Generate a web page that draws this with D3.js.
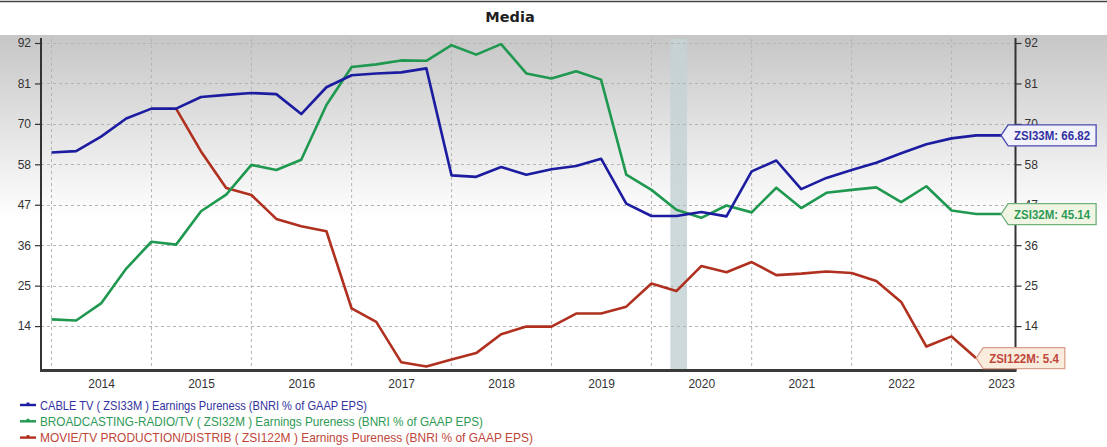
<!DOCTYPE html>
<html>
<head>
<meta charset="utf-8">
<script src="https://cdn.jsdelivr.net/npm/d3@7"></script>
<style>
  html, body { margin: 0; padding: 0; background: #fff; }
  svg { display: block; }
  text { font-family: "Liberation Sans", Arial, sans-serif; }
</style>
</head>
<body>
<svg id="chart" width="1107" height="447"></svg>
<script>
// Quarterly observations
const quarters = [
  "2014-01","2014-04","2014-07","2014-10",
  "2015-01","2015-04","2015-07","2015-10",
  "2016-01","2016-04","2016-07","2016-10",
  "2017-01","2017-04","2017-07","2017-10",
  "2018-01","2018-04","2018-07","2018-10",
  "2019-01","2019-04","2019-07","2019-10",
  "2020-01","2020-04","2020-07","2020-10",
  "2021-01","2021-04","2021-07","2021-10",
  "2022-01","2022-04","2022-07","2022-10",
  "2023-01","2023-04","2023-07"
];

// Earnings pureness (BNRI % of GAAP EPS)
const cableTV = [
  62.1, 62.5, 66.5, 71.5,
  74.2, 74.2, 77.4, 78.0,
  78.5, 78.2, 72.7, 80.1,
  83.4, 83.9, 84.2, 85.3,
  55.8, 55.4, 58.1, 56.0,
  57.5, 58.4, 60.4, 48.0,
  44.6, 44.6, 45.7, 44.5,
  56.9, 59.9, 52.0, 55.1,
  57.3, 59.3, 61.9, 64.4,
  66.0, 66.82, 66.82
];
const broadcasting = [
  16.1, 15.8, 20.5, 30.1,
  37.5, 36.7, 45.9, 50.5,
  58.7, 57.3, 60.1, 75.2,
  85.7, 86.4, 87.5, 87.4,
  91.7, 89.1, 92.0, 83.9,
  82.5, 84.5, 82.2, 56.0,
  51.8, 46.3, 44.1, 47.5,
  45.6, 52.4, 46.8, 51.0,
  51.8, 52.5, 48.4, 52.8,
  46.1, 45.14, 45.14
];
const movieTV = [
  null, null, null, null,
  null, 74.2, 62.4, 52.3,
  50.4, 43.8, 41.8, 40.4,
  19.1, 15.4, 4.3, 3.1,
  5.0, 6.8, 12.0, 14.1,
  14.1, 17.7, 17.7, 19.6,
  26.0, 23.9, 30.8, 29.1,
  31.9, 28.3, 28.7, 29.3,
  28.9, 26.7, 20.9, 8.6,
  11.4, 5.4, null
];

const seriesNames = [
  "CABLE TV ( ZSI33M ) Earnings Pureness (BNRI % of GAAP EPS)",
  "BROADCASTING-RADIO/TV ( ZSI32M ) Earnings Pureness (BNRI % of GAAP EPS)",
  "MOVIE/TV PRODUCTION/DISTRIB ( ZSI122M ) Earnings Pureness (BNRI % of GAAP EPS)"
];
const seriesCodes = ["ZSI33M", "ZSI32M", "ZSI122M"];

// Value axis ticks (labels are truncated to whole numbers)
const yTicks = [14.25, 25.4, 36.55, 47.7, 58.85, 70.0, 81.15, 92.3];
const yearTicks = ["2014","2015","2016","2017","2018","2019","2020","2021","2022","2023"];

// Shaded recession period
const recession = ["2020-03-10", "2020-05-10"];

const parseQ = d3.timeParse("%Y-%m");
const parseD = d3.timeParse("%Y-%m-%d");
const dates = quarters.map(parseQ);

const W = 1107, H = 447;
const plot = { left: 41, right: 1015.5, top: 35, bottom: 370.5 };
// rendered widths of the condensed legend captions
const legendWidths = [327, 443, 493];

const x = d3.scaleTime()
  .domain([new Date(2014, 0, 1), new Date(2024, 0, 1)])
  .range([51.5, 1051.5]);
const y = d3.scaleLinear()
  .domain([2.0, 92.3])
  .range([plot.bottom, 43]);

const colors = ["#1c1ca0", "#1f9850", "#b0301f"];
const textColors = ["#3232a0", "#2e9a55", "#c0463a"];
const boxFill = ["#f2f2fb", "#f1f6e4", "#f9ecdc"];
const boxStroke = ["#4a4ab0", "#6fb27e", "#d9a08c"];

const svg = d3.select("#chart");
const defs = svg.append("defs");
const grad = defs.append("linearGradient")
  .attr("id", "bg").attr("x1", 0).attr("y1", 0).attr("x2", 0).attr("y2", 1);
grad.append("stop").attr("offset", "0%").attr("stop-color", "#c6c6c6");
grad.append("stop").attr("offset", "55%").attr("stop-color", "#ffffff");
grad.append("stop").attr("offset", "100%").attr("stop-color", "#ffffff");

// frame line and title
svg.append("line").attr("x1", 0).attr("x2", W).attr("y1", 1.5).attr("y2", 1.5)
  .attr("stroke", "#444").attr("stroke-width", 1.5);
svg.append("text").attr("x", 510).attr("y", 22)
  .attr("text-anchor", "middle")
  .style("font-family", "'DejaVu Sans', Verdana, sans-serif")
  .style("font-weight", "bold").style("font-size", "14.5px")
  .attr("fill", "#1e1e1e").text("Media");

// plot background
svg.append("rect").attr("x", 0).attr("y", plot.top)
  .attr("width", W).attr("height", plot.bottom - plot.top)
  .attr("fill", "url(#bg)");

// recession band
svg.append("rect")
  .attr("x", x(parseD(recession[0])))
  .attr("width", x(parseD(recession[1])) - x(parseD(recession[0])))
  .attr("y", 39).attr("height", plot.bottom - 39)
  .attr("fill", "#c4d2d5").attr("opacity", 0.85);

// grid
const grid = svg.append("g").attr("stroke", "#b4b4b4")
  .attr("stroke-dasharray", "3,3").attr("stroke-width", 1);
grid.selectAll("line.h").data(yTicks).join("line")
  .attr("x1", plot.left).attr("x2", plot.right)
  .attr("y1", d => Math.round(y(d)) + 0.5).attr("y2", d => Math.round(y(d)) + 0.5);
grid.selectAll("line.v").data(yearTicks).join("line")
  .attr("x1", d => x(new Date(+d, 0, 1))).attr("x2", d => x(new Date(+d, 0, 1)))
  .attr("y1", 39).attr("y2", plot.bottom);

// value axes
const fmt = d => Math.floor(d + 1e-6);
const leftAxis = d3.axisLeft(y).tickValues(yTicks).tickFormat(fmt).tickSize(6).tickPadding(4);
const rightAxis = d3.axisRight(y).tickValues(yTicks).tickFormat(fmt).tickSize(6).tickPadding(3);
function styleAxis(g) {
  g.select(".domain").remove();
  g.selectAll(".tick line").attr("stroke", "#333").attr("stroke-width", 1.2);
  g.selectAll(".tick text").attr("fill", "#333")
    .style("font-size", "12px").style("font-family", "'Liberation Sans', Arial, sans-serif");
}
svg.append("g").attr("transform", `translate(${plot.left},0)`).call(leftAxis).call(styleAxis);
svg.append("g").attr("transform", `translate(${plot.right},0)`).call(rightAxis).call(styleAxis);

// axis lines
svg.append("line").attr("x1", plot.left).attr("x2", plot.left).attr("y1", 38).attr("y2", plot.bottom)
  .attr("stroke", "#333").attr("stroke-width", 2);
svg.append("line").attr("x1", plot.right).attr("x2", plot.right).attr("y1", 38).attr("y2", plot.bottom)
  .attr("stroke", "#333").attr("stroke-width", 2);

// time axis labels at mid-year
const xAxis = d3.axisBottom(x)
  .tickValues(yearTicks.map(d => new Date(+d, 6, 1)))
  .tickFormat(d3.timeFormat("%Y")).tickSize(0).tickPadding(9);
svg.append("g").attr("transform", `translate(0,${plot.bottom})`).call(xAxis)
  .call(g => {
    g.select(".domain").remove();
    g.selectAll(".tick text").attr("fill", "#333")
      .style("font-size", "12px").style("font-family", "'Liberation Sans', Arial, sans-serif");
  });
svg.append("line").attr("x1", plot.left - 1).attr("x2", plot.right + 1)
  .attr("y1", plot.bottom).attr("y2", plot.bottom)
  .attr("stroke", "#3a3a3a").attr("stroke-width", 3);

// series lines
const series = [cableTV, broadcasting, movieTV];
const line = d3.line()
  .defined(d => d.v != null)
  .x(d => x(d.t)).y(d => y(d.v));
const drawOrder = [2, 1, 0];
drawOrder.forEach(i => {
  const pts = series[i].map((v, k) => ({ t: dates[k], v }));
  svg.append("path").datum(pts)
    .attr("fill", "none").attr("stroke", colors[i])
    .attr("stroke-width", 2.6).attr("stroke-linejoin", "round")
    .attr("d", line);
});

// last-value callouts
series.forEach((s, i) => {
  let k = s.length - 1;
  while (s[k] == null) k--;
  const px = x(dates[k]), py = y(s[k]);
  const label = `${seriesCodes[i]}: ${s[k]}`;
  const g = svg.append("g").attr("transform", `translate(${px},${py})`);
  const path = g.append("path");
  const t = g.append("text").attr("y", 4.5)
    .attr("fill", textColors[i])
    .style("font-size", "12.5px").style("font-weight", "bold")
    .style("font-family", "'Liberation Sans', Arial, sans-serif")
    .attr("transform", "scale(0.92,1)")
    .text(label);
  const tw = t.node().getComputedTextLength() * 0.92;
  const bw = tw + 12, hh = 10.5;
  path.attr("d", `M0,0 L7,${-hh} L${7 + bw},${-hh} L${7 + bw},${hh} L7,${hh} Z`)
    .attr("fill", boxFill[i]).attr("stroke", boxStroke[i]).attr("stroke-width", 1.3);
  t.attr("x", (7 + 6) / 0.92);
});

// legend
const legend = svg.append("g");
seriesNames.forEach((name, i) => {
  const ly = 405 + i * 16.3;
  legend.append("line").attr("x1", 20).attr("x2", 36).attr("y1", ly).attr("y2", ly)
    .attr("stroke", colors[i]).attr("stroke-width", 2.4);
  legend.append("rect").attr("x", 26.5).attr("y", ly - 2.5).attr("width", 3).attr("height", 3)
    .attr("fill", colors[i]);
  legend.append("text")
    .attr("x", 40).attr("y", ly + 4.5)
    .attr("fill", textColors[i])
    .style("font-size", "13px")
    .attr("textLength", legendWidths[i])
    .attr("lengthAdjust", "spacingAndGlyphs")
    .text(name);
});
</script>
</body>
</html>
